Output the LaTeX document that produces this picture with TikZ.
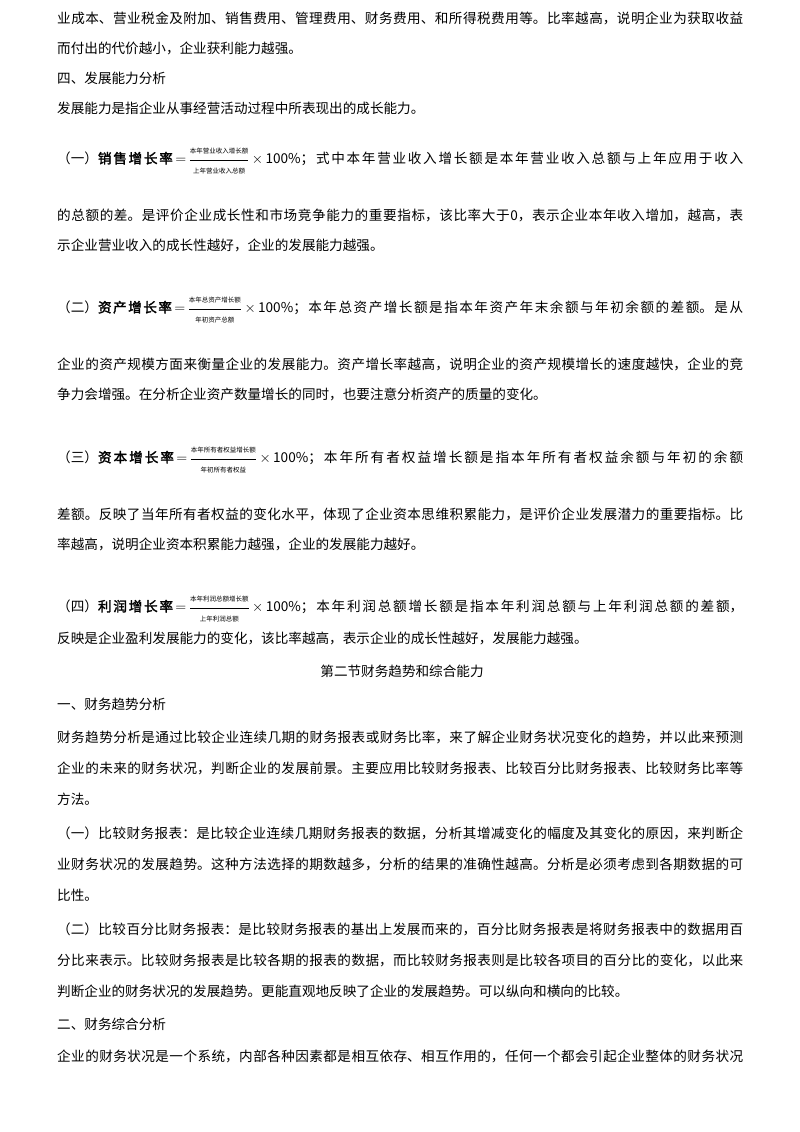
\documentclass[tikz,border=0pt]{standalone}
\usepackage{fontspec}
\usepackage{amsmath}
\setmainfont{Noto Sans CJK SC}
\newfontfamily\cjkb{Noto Sans CJK SC}[FakeBold=2]
\XeTeXlinebreaklocale "zh"
\XeTeXlinebreakskip = 0pt plus 2pt
\newcommand\fl[1]{\parbox{686pt}{\parfillskip=0pt\relax #1}}
\newcommand\fr[2]{$\,{=}\,\dfrac{\mbox{\fontsize{6.5}{7}\selectfont #1}}{\mbox{\fontsize{6.5}{7}\selectfont #2}}\,{\times}\,$100\%}
\tikzset{
  ln/.style={anchor=west, inner sep=0pt, font=\fontsize{13.6}{15}\selectfont}
}
\begin{document}
\begin{tikzpicture}[x=1pt,y=-1pt]
\useasboundingbox (0,0) rectangle (800,1132);
\node[ln] (l1) at (57,18) {\fl{业成本、营业税金及附加、销售费用、管理费用、财务费用、和所得税费用等。比率越高，说明企业为获取收益}};
\node[ln] (l2) at (57,48) {而付出的代价越小，企业获利能力越强。};
\node[ln] (l3) at (57,78) {四、发展能力分析};
\node[ln] (l4) at (57,108) {发展能力是指企业从事经营活动过程中所表现出的成长能力。};
\node[ln] (l5) at (57,161) {\fl{（一）{\cjkb 销售增长率}\fr{本年营业收入增长额}{上年营业收入总额}；式中本年营业收入增长额是本年营业收入总额与上年应用于收入}};
\node[ln] (l6) at (57,215) {\fl{的总额的差。是评价企业成长性和市场竞争能力的重要指标，该比率大于0，表示企业本年收入增加，越高，表}};
\node[ln] (l7) at (57,245) {示企业营业收入的成长性越好，企业的发展能力越强。};
\node[ln] (l8) at (57,310) {\fl{（二）{\cjkb 资产增长率}\fr{本年总资产增长额}{年初资产总额}；本年总资产增长额是指本年资产年末余额与年初余额的差额。是从}};
\node[ln] (l9) at (57,364) {\fl{企业的资产规模方面来衡量企业的发展能力。资产增长率越高，说明企业的资产规模增长的速度越快，企业的竞}};
\node[ln] (l10) at (57,394) {争力会增强。在分析企业资产数量增长的同时，也要注意分析资产的质量的变化。};
\node[ln] (l11) at (57,460) {\fl{（三）{\cjkb 资本增长率}\fr{本年所有者权益增长额}{年初所有者权益}；本年所有者权益增长额是指本年所有者权益余额与年初的余额}};
\node[ln] (l12) at (57,514) {\fl{差额。反映了当年所有者权益的变化水平，体现了企业资本思维积累能力，是评价企业发展潜力的重要指标。比}};
\node[ln] (l13) at (57,544) {率越高，说明企业资本积累能力越强，企业的发展能力越好。};
\node[ln] (l14) at (57,609) {\fl{（四）{\cjkb 利润增长率}\fr{本年利润总额增长额}{上年利润总额}；本年利润总额增长额是指本年利润总额与上年利润总额的差额，}};
\node[ln] (l15) at (57,638) {反映是企业盈利发展能力的变化，该比率越高，表示企业的成长性越好，发展能力越强。};
\node[ln, anchor=center] (l16) at (402,671) {第二节财务趋势和综合能力};
\node[ln] (l17) at (57,704) {一、财务趋势分析};
\node[ln] (l18) at (57,737) {\fl{财务趋势分析是通过比较企业连续几期的财务报表或财务比率，来了解企业财务状况变化的趋势，并以此来预测}};
\node[ln] (l19) at (57,768) {\fl{企业的未来的财务状况，判断企业的发展前景。主要应用比较财务报表、比较百分比财务报表、比较财务比率等}};
\node[ln] (l20) at (57,799) {方法。};
\node[ln] (l21) at (57,833) {\fl{（一）比较财务报表：是比较企业连续几期财务报表的数据，分析其增减变化的幅度及其变化的原因，来判断企}};
\node[ln] (l22) at (57,864) {\fl{业财务状况的发展趋势。这种方法选择的期数越多，分析的结果的准确性越高。分析是必须考虑到各期数据的可}};
\node[ln] (l23) at (57,895) {比性。};
\node[ln] (l24) at (57,929) {\fl{（二）比较百分比财务报表：是比较财务报表的基出上发展而来的，百分比财务报表是将财务报表中的数据用百}};
\node[ln] (l25) at (57,960) {\fl{分比来表示。比较财务报表是比较各期的报表的数据，而比较财务报表则是比较各项目的百分比的变化，以此来}};
\node[ln] (l26) at (57,991) {判断企业的财务状况的发展趋势。更能直观地反映了企业的发展趋势。可以纵向和横向的比较。};
\node[ln] (l27) at (57,1024) {二、财务综合分析};
\node[ln] (l28) at (57,1056) {\fl{企业的财务状况是一个系统，内部各种因素都是相互依存、相互作用的，任何一个都会引起企业整体的财务状况}};
\end{tikzpicture}
\end{document}
